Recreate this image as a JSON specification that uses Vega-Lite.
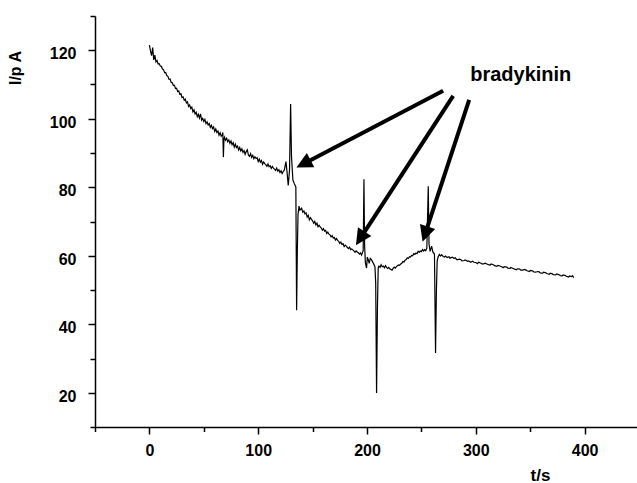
{
  "$schema": "https://vega.github.io/schema/vega-lite/v6.json",
  "autosize": "none",
  "padding": {"left": 95, "top": 16, "right": 0, "bottom": 56},
  "width": 544,
  "height": 411,
  "background": "white",
  "config": {
    "view": {"stroke": null},
    "font": "Liberation Sans",
    "axis": {
      "grid": false,
      "domainColor": "black",
      "domainWidth": 1.5,
      "tickColor": "black",
      "tickWidth": 1.5,
      "labelColor": "black",
      "labelFont": "Liberation Sans",
      "labelFontSize": 16,
      "labelFontWeight": "bold",
      "titleColor": "black",
      "titleFont": "Liberation Sans",
      "titleFontWeight": "bold",
      "labelOverlap": false,
      "labelFlush": false
    }
  },
  "datasets": {
    "trace": [
      {"t": 0, "I": 121.5}, {"t": 1, "I": 119.8}, {"t": 2, "I": 118.4}, {"t": 3, "I": 120.8}, {"t": 4, "I": 117.2},
      {"t": 5, "I": 118.6}, {"t": 6, "I": 116.6}, {"t": 7, "I": 117.0}, {"t": 8, "I": 116.0}, {"t": 9, "I": 116.1}, {"t": 10, "I": 115.4},
      {"t": 11, "I": 115.3}, {"t": 12, "I": 114.5}, {"t": 13, "I": 114.3}, {"t": 14, "I": 113.4}, {"t": 15, "I": 113.5}, {"t": 16, "I": 112.6},
      {"t": 17, "I": 112.4}, {"t": 18, "I": 111.5}, {"t": 19, "I": 111.6}, {"t": 20, "I": 110.6}, {"t": 21, "I": 110.5}, {"t": 22, "I": 109.7},
      {"t": 23, "I": 109.8}, {"t": 24, "I": 108.8}, {"t": 25, "I": 108.9}, {"t": 26, "I": 107.9}, {"t": 27, "I": 108.1}, {"t": 28, "I": 107.1},
      {"t": 29, "I": 107.3}, {"t": 30, "I": 106.2}, {"t": 31, "I": 106.4}, {"t": 32, "I": 105.4}, {"t": 33, "I": 105.7}, {"t": 34, "I": 104.6},
      {"t": 35, "I": 104.9}, {"t": 36, "I": 103.6}, {"t": 37, "I": 104.0}, {"t": 38, "I": 103.0}, {"t": 39, "I": 103.4}, {"t": 40, "I": 102.0},
      {"t": 41, "I": 102.6}, {"t": 42, "I": 101.4}, {"t": 43, "I": 101.9}, {"t": 44, "I": 100.6}, {"t": 45, "I": 101.3}, {"t": 46, "I": 100.2},
      {"t": 47, "I": 101.4}, {"t": 48, "I": 99.6}, {"t": 49, "I": 100.1}, {"t": 50, "I": 99.2}, {"t": 51, "I": 99.8}, {"t": 52, "I": 98.6},
      {"t": 53, "I": 99.1}, {"t": 54, "I": 98.2}, {"t": 55, "I": 98.6}, {"t": 56, "I": 97.5}, {"t": 57, "I": 98.1}, {"t": 58, "I": 97.1},
      {"t": 59, "I": 97.6}, {"t": 60, "I": 96.3}, {"t": 61, "I": 97.0}, {"t": 62, "I": 96.0}, {"t": 63, "I": 96.4}, {"t": 64, "I": 95.2},
      {"t": 65, "I": 95.9}, {"t": 66, "I": 94.9}, {"t": 67, "I": 95.4}, {"t": 67.5, "I": 96.0}, {"t": 68, "I": 88.8},
      {"t": 68.5, "I": 93.8}, {"t": 69, "I": 94.6}, {"t": 70, "I": 93.7}, {"t": 71, "I": 94.3}, {"t": 72, "I": 93.3}, {"t": 73, "I": 93.8}, {"t": 74, "I": 92.8},
      {"t": 75, "I": 93.5}, {"t": 76, "I": 92.4}, {"t": 77, "I": 93.0}, {"t": 78, "I": 91.7}, {"t": 79, "I": 92.6}, {"t": 80, "I": 91.6},
      {"t": 81, "I": 92.0}, {"t": 82, "I": 90.9}, {"t": 83, "I": 91.6}, {"t": 84, "I": 90.6}, {"t": 85, "I": 91.2}, {"t": 86, "I": 90.2},
      {"t": 87, "I": 90.7}, {"t": 88, "I": 89.6}, {"t": 89, "I": 90.4}, {"t": 90, "I": 90.9}, {"t": 91, "I": 89.4}, {"t": 92, "I": 89.0},
      {"t": 93, "I": 89.8}, {"t": 94, "I": 88.7}, {"t": 95, "I": 89.3}, {"t": 96, "I": 88.3}, {"t": 97, "I": 88.9}, {"t": 98, "I": 88.4},
      {"t": 99, "I": 88.6}, {"t": 100, "I": 87.5}, {"t": 101, "I": 88.2}, {"t": 102, "I": 87.3}, {"t": 103, "I": 87.8}, {"t": 104, "I": 86.7},
      {"t": 105, "I": 87.4}, {"t": 106, "I": 86.9}, {"t": 107, "I": 86.6}, {"t": 108, "I": 86.1}, {"t": 109, "I": 86.8}, {"t": 110, "I": 86.0},
      {"t": 111, "I": 86.3}, {"t": 112, "I": 85.5}, {"t": 113, "I": 86.1}, {"t": 114, "I": 85.6}, {"t": 115, "I": 85.3}, {"t": 116, "I": 84.9},
      {"t": 117, "I": 85.6}, {"t": 118, "I": 84.7}, {"t": 119, "I": 85.1}, {"t": 120, "I": 84.3}, {"t": 121, "I": 84.8}, {"t": 122, "I": 84.0},
      {"t": 123, "I": 84.6}, {"t": 124, "I": 85.0},
      {"t": 125.5, "I": 87.5}, {"t": 126.5, "I": 84.5}, {"t": 127.6, "I": 80.5}, {"t": 128.8, "I": 85.0}, {"t": 129.8, "I": 104.3},
      {"t": 130.6, "I": 89.0}, {"t": 131.9, "I": 82.1}, {"t": 133, "I": 81.2}, {"t": 134.6, "I": 80.1}, {"t": 135.3, "I": 44.1},
      {"t": 136, "I": 62.0}, {"t": 136.6, "I": 72.0}, {"t": 137.5, "I": 74.5}, {"t": 138.3, "I": 73.3}, {"t": 139.9, "I": 73.9},
      {"t": 141, "I": 72.7}, {"t": 142, "I": 73.1}, {"t": 143, "I": 72.2}, {"t": 144, "I": 72.5}, {"t": 145, "I": 71.3}, {"t": 146, "I": 71.8},
      {"t": 147, "I": 70.5}, {"t": 148, "I": 71.1}, {"t": 149, "I": 70.6}, {"t": 150, "I": 70.2}, {"t": 151, "I": 69.5}, {"t": 152, "I": 70.0},
      {"t": 153, "I": 69.0}, {"t": 154, "I": 69.5}, {"t": 155, "I": 68.5}, {"t": 156, "I": 68.9}, {"t": 157, "I": 68.4}, {"t": 158, "I": 68.1},
      {"t": 159, "I": 67.5}, {"t": 160, "I": 67.9}, {"t": 161, "I": 67.2}, {"t": 162, "I": 67.4}, {"t": 163, "I": 66.5}, {"t": 164, "I": 66.9},
      {"t": 165, "I": 66.3}, {"t": 166, "I": 66.1}, {"t": 167, "I": 65.5}, {"t": 168, "I": 65.9}, {"t": 169, "I": 65.2}, {"t": 170, "I": 65.3},
      {"t": 171, "I": 64.6}, {"t": 172, "I": 65.0}, {"t": 173, "I": 64.5}, {"t": 174, "I": 64.2}, {"t": 175, "I": 63.6}, {"t": 176, "I": 64.0},
      {"t": 177, "I": 63.3}, {"t": 178, "I": 63.5}, {"t": 179, "I": 62.7}, {"t": 180, "I": 63.1}, {"t": 181, "I": 62.8}, {"t": 182, "I": 62.4},
      {"t": 183, "I": 62.1}, {"t": 184, "I": 62.5}, {"t": 185, "I": 61.8}, {"t": 186, "I": 62.0}, {"t": 187, "I": 61.7}, {"t": 188, "I": 61.4},
      {"t": 189, "I": 61.0}, {"t": 190, "I": 61.4}, {"t": 191, "I": 61.1}, {"t": 192, "I": 60.9}, {"t": 193, "I": 60.5}, {"t": 194, "I": 60.8},
      {"t": 195, "I": 60.2}, {"t": 196.5, "I": 61.5}, {"t": 197.2, "I": 82.3},
      {"t": 197.8, "I": 63.0}, {"t": 198.5, "I": 58.0}, {"t": 199.6, "I": 56.4}, {"t": 200.3, "I": 59.6}, {"t": 201, "I": 59.0},
      {"t": 202, "I": 57.8}, {"t": 203, "I": 59.2}, {"t": 204.2, "I": 58.8}, {"t": 205.5, "I": 58.0}, {"t": 207.3, "I": 56.8},
      {"t": 208, "I": 52.0}, {"t": 208.8, "I": 19.9}, {"t": 209.6, "I": 45.0}, {"t": 210.3, "I": 56.5}, {"t": 211, "I": 57.0},
      {"t": 212, "I": 56.6}, {"t": 213, "I": 57.4}, {"t": 214, "I": 56.8}, {"t": 215, "I": 57.0}, {"t": 216, "I": 56.5}, {"t": 217, "I": 57.1},
      {"t": 218, "I": 56.6}, {"t": 219, "I": 56.3}, {"t": 220, "I": 56.6}, {"t": 221, "I": 56.2}, {"t": 222, "I": 56.0}, {"t": 223, "I": 55.8},
      {"t": 224, "I": 56.3}, {"t": 225, "I": 56.7}, {"t": 226, "I": 56.4}, {"t": 227, "I": 56.8}, {"t": 228, "I": 57.1}, {"t": 229, "I": 57.3},
      {"t": 230, "I": 57.2}, {"t": 231, "I": 57.6}, {"t": 232, "I": 57.8}, {"t": 233, "I": 58.3}, {"t": 234, "I": 58.2}, {"t": 235, "I": 58.7},
      {"t": 236, "I": 58.9}, {"t": 237, "I": 59.4}, {"t": 238, "I": 59.2}, {"t": 239, "I": 59.7}, {"t": 240, "I": 59.6}, {"t": 241, "I": 60.1},
      {"t": 242, "I": 60.0}, {"t": 243, "I": 60.6}, {"t": 244, "I": 60.4}, {"t": 245, "I": 60.8}, {"t": 246, "I": 60.6}, {"t": 247, "I": 61.3},
      {"t": 248, "I": 61.0}, {"t": 249, "I": 61.4}, {"t": 250, "I": 61.2}, {"t": 251, "I": 61.8}, {"t": 252, "I": 61.4}, {"t": 253, "I": 61.8},
      {"t": 254, "I": 61.5}, {"t": 255, "I": 62.2}, {"t": 256.3, "I": 80.3}, {"t": 257, "I": 63.5}, {"t": 258, "I": 61.3},
      {"t": 259.4, "I": 62.8}, {"t": 260.5, "I": 61.1}, {"t": 262, "I": 60.5}, {"t": 263, "I": 31.6}, {"t": 263.8, "I": 50.0},
      {"t": 264.5, "I": 58.5}, {"t": 265.4, "I": 59.7}, {"t": 266.5, "I": 60.4}, {"t": 267.5, "I": 59.9}, {"t": 268.6, "I": 60.3}, {"t": 270, "I": 59.8},
      {"t": 271.2, "I": 59.6}, {"t": 272.1, "I": 59.9}, {"t": 273.6, "I": 59.5}, {"t": 275.4, "I": 59.7}, {"t": 276.3, "I": 59.3}, {"t": 278.5, "I": 59.6},
      {"t": 280, "I": 59.2}, {"t": 281.1, "I": 59.4}, {"t": 282.7, "I": 58.8}, {"t": 284.9, "I": 59.0}, {"t": 286.2, "I": 58.9}, {"t": 287.3, "I": 58.5},
      {"t": 289.4, "I": 58.6}, {"t": 290.2, "I": 58.8}, {"t": 292.6, "I": 58.4}, {"t": 293.5, "I": 58.5}, {"t": 295.2, "I": 58.1}, {"t": 297.1, "I": 58.4},
      {"t": 298.3, "I": 58.1}, {"t": 300.2, "I": 58.0}, {"t": 301.4, "I": 57.7}, {"t": 302.6, "I": 58.1}, {"t": 304.8, "I": 57.8}, {"t": 305.6, "I": 57.6},
      {"t": 307.3, "I": 57.6}, {"t": 308.4, "I": 57.8}, {"t": 310.7, "I": 57.5}, {"t": 311.5, "I": 57.4}, {"t": 313.2, "I": 57.3}, {"t": 314.1, "I": 57.6},
      {"t": 316.5, "I": 57.3}, {"t": 317.2, "I": 57.1}, {"t": 319.4, "I": 56.9}, {"t": 320.3, "I": 57.2}, {"t": 322.1, "I": 57.0}, {"t": 323.8, "I": 56.8},
      {"t": 325.2, "I": 56.5}, {"t": 326.1, "I": 56.8}, {"t": 328.4, "I": 56.7}, {"t": 329.5, "I": 56.4}, {"t": 331.6, "I": 56.3}, {"t": 332.2, "I": 56.6},
      {"t": 334.3, "I": 56.3}, {"t": 335.7, "I": 56.1}, {"t": 337.2, "I": 55.9}, {"t": 338.1, "I": 56.2}, {"t": 340.4, "I": 56.1}, {"t": 341.3, "I": 55.8},
      {"t": 343.1, "I": 55.8}, {"t": 344.7, "I": 56.0}, {"t": 346.3, "I": 55.8}, {"t": 347.2, "I": 55.6}, {"t": 349.4, "I": 55.4}, {"t": 350.2, "I": 55.7},
      {"t": 352.6, "I": 55.5}, {"t": 353.3, "I": 55.3}, {"t": 355.1, "I": 55.2}, {"t": 356.8, "I": 55.4}, {"t": 358.2, "I": 55.3}, {"t": 359.1, "I": 55.0},
      {"t": 361.5, "I": 54.9}, {"t": 362.3, "I": 55.2}, {"t": 364.4, "I": 55.0}, {"t": 365.2, "I": 54.8}, {"t": 367.6, "I": 54.6}, {"t": 368.4, "I": 54.9},
      {"t": 370.3, "I": 54.7}, {"t": 371.2, "I": 54.5}, {"t": 373.5, "I": 54.4}, {"t": 374.3, "I": 54.7}, {"t": 376.1, "I": 54.5}, {"t": 377.8, "I": 54.2},
      {"t": 379.4, "I": 54.1}, {"t": 380.2, "I": 54.4}, {"t": 382.5, "I": 54.2}, {"t": 383.1, "I": 54.0}, {"t": 385.3, "I": 53.8}, {"t": 386.2, "I": 54.1},
      {"t": 388, "I": 53.9}, {"t": 389, "I": 54.2}, {"t": 390, "I": 53.6}
    ],
    "arrows": [
      {"id": 1, "t0": 270.0, "i0": 108.2, "t1": 144.9, "i1": 87.4, "tt": 135.1, "it": 85.75},
      {"id": 2, "t0": 279.2, "i0": 106.7, "t1": 195.8, "i1": 66.0, "tt": 189.8, "it": 63.1},
      {"id": 3, "t0": 293.9, "i0": 105.5, "t1": 254.5, "i1": 67.4, "tt": 251.1, "it": 64.1}
    ],
    "labels": [
      {"t": 341.3, "I": 111.1, "text": "bradykinin"}
    ]
  },
  "resolve": {"axis": {"y": "independent"}},
  "layer": [
    {
      "data": {"name": "trace"},
      "mark": {"type": "line", "color": "black", "strokeWidth": 1.2, "clip": true},
      "encoding": {
        "x": {
          "field": "t", "type": "quantitative",
          "scale": {"domain": [-50, 450], "nice": false, "zero": false},
          "axis": {
            "title": "t/s",
            "titleFontSize": 17,
            "titleX": 445,
            "titleY": 53,
            "titleAlign": "center",
            "titleBaseline": "alphabetic",
            "values": [-50, 0, 50, 100, 150, 200, 250, 300, 350, 400, 450],
            "labelExpr": "datum.value >= 0 && datum.value % 100 === 0 ? datum.label : ''",
            "tickSize": {"condition": {"test": "datum.value % 100 === 0", "value": 7}, "value": 4.5},
            "labelBaseline": "alphabetic",
            "labelPadding": 21
          }
        },
        "y": {
          "field": "I", "type": "quantitative",
          "scale": {"domain": [10, 130], "nice": false, "zero": false},
          "axis": {
            "orient": "left",
            "title": "I/p A",
            "titleFontSize": 16,
            "titleAngle": -90,
            "titleX": -74.3,
            "titleY": 51.5,
            "titleAlign": "center",
            "titleBaseline": "alphabetic",
            "values": [20, 40, 60, 80, 100, 120],
            "tickSize": 7,
            "labelBaseline": "alphabetic",
            "labelOffset": 8.7,
            "labelPadding": 12
          }
        }
      }
    },
    {
      "data": {"name": "arrows"},
      "mark": {"type": "rule", "color": "black", "strokeWidth": 4, "strokeCap": "butt"},
      "encoding": {
        "x": {"field": "t0", "type": "quantitative"},
        "y": {
          "field": "i0", "type": "quantitative",
          "axis": {
            "orient": "left",
            "title": null,
            "values": [10, 30, 50, 70, 90, 110, 130],
            "tickSize": 5,
            "labels": false,
            "domain": false
          }
        },
        "x2": {"field": "t1"},
        "y2": {"field": "i1"}
      }
    },
    {
      "data": {"name": "arrows"},
      "transform": [{"filter": "datum.id === 1"}],
      "mark": {"type": "point", "shape": "M0,0L1,2L-1,2Z", "filled": true, "color": "black", "opacity": 1, "size": 256, "angle": 242.4, "strokeWidth": 0},
      "encoding": {
        "x": {"field": "tt", "type": "quantitative"},
        "y": {"field": "it", "type": "quantitative", "axis": null}
      }
    },
    {
      "data": {"name": "arrows"},
      "transform": [{"filter": "datum.id === 2"}],
      "mark": {"type": "point", "shape": "M0,0L1,2L-1,2Z", "filled": true, "color": "black", "opacity": 1, "size": 256, "angle": 213.1, "strokeWidth": 0},
      "encoding": {
        "x": {"field": "tt", "type": "quantitative"},
        "y": {"field": "it", "type": "quantitative", "axis": null}
      }
    },
    {
      "data": {"name": "arrows"},
      "transform": [{"filter": "datum.id === 3"}],
      "mark": {"type": "point", "shape": "M0,0L1,2L-1,2Z", "filled": true, "color": "black", "opacity": 1, "size": 256, "angle": 198.2, "strokeWidth": 0},
      "encoding": {
        "x": {"field": "tt", "type": "quantitative"},
        "y": {"field": "it", "type": "quantitative", "axis": null}
      }
    },
    {
      "data": {"name": "labels"},
      "mark": {"type": "text", "font": "Liberation Sans", "fontWeight": "bold", "fontSize": 20, "color": "black", "align": "center", "baseline": "alphabetic"},
      "encoding": {
        "x": {"field": "t", "type": "quantitative"},
        "y": {"field": "I", "type": "quantitative", "axis": null},
        "text": {"field": "text"}
      }
    }
  ]
}
